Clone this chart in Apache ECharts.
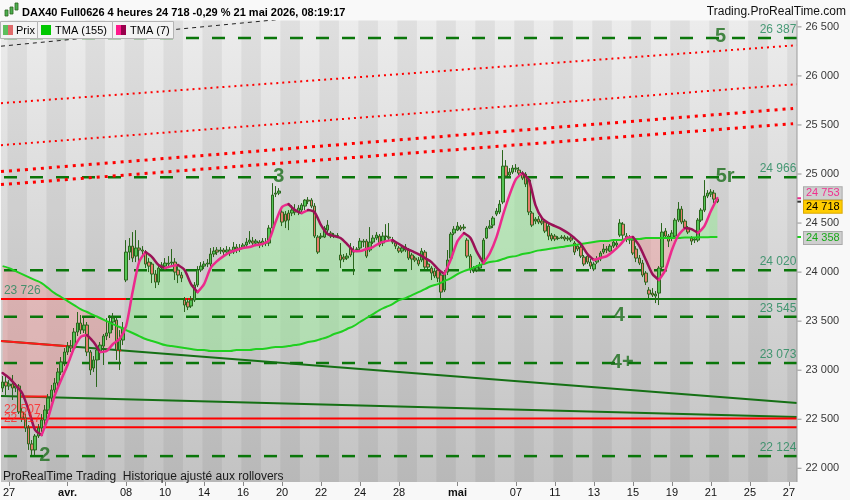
<!DOCTYPE html>
<html lang="fr">
<head>
<meta charset="UTF-8">
<title>DAX40 Full0626 4 heures</title>
<script src="https://cdn.jsdelivr.net/npm/echarts@6/dist/echarts.min.js"></script>
<style>
  html, body { margin: 0; padding: 0; background: #f8f8f8; }
  #chart { width: 850px; height: 500px; }
</style>
</head>
<body>
<div id="chart"></div>
<script>
// bar slots: 2 late bars of 26/03, then 6 four-hour bars per trading day up to 27/05
const BAR_COUNT = 245;
const Y_MIN = 21860, Y_MAX = 26565;

// x axis tick labels (bar index of first bar of the day)
const tickBars  = [2, 20, 38, 50, 62, 74, 86, 98, 110, 122, 140, 158, 170, 182, 194, 206, 218, 230, 242];
const tickTexts = ['27', 'avr.', '08', '10', '14', '16', '20', '22', '24', '28', 'mai', '07', '11', '13', '15', '19', '21', '25', '27'];
const monthTexts = ['avr.', 'mai'];
const yTicks = [22000, 22500, 23000, 23500, 24000, 24500, 25000, 25500, 26000, 26500];

// Prix: [open, close, low, high] per bar
const ohlc = [
  [22818,22879,22777,22941],[22879,22839,22747,22951],[22839,22859,22798,22900],[22859,22818,22696,22951],
  [22818,22839,22777,22869],[22839,22574,22553,22859],[22574,22513,22472,22614],[22513,22411,22370,22553],
  [22411,22248,22187,22441],[22248,22187,22136,22288],[22187,22329,22136,22349],[22329,22411,22309,22451],
  [22411,22492,22370,22553],[22492,22594,22441,22645],[22594,22716,22553,22757],[22716,22798,22676,22849],
  [22798,22869,22767,22920],[22869,22981,22839,23022],[22981,23084,22951,23134],[23084,23185,23042,23226],
  [23185,23246,23155,23287],[23246,23226,23185,23307],[23226,23389,23206,23430],[23389,23481,23348,23593],
  [23481,23409,23369,23562],[23409,23460,23379,23532],[23460,23185,23144,23491],[23185,23002,22951,23206],
  [23022,23104,22981,23144],[23104,23206,22829,23256],[23185,23256,23104,23287],[23246,23348,23053,23369],
  [23348,23379,23307,23532],[23379,23491,23328,23562],[23491,23532,23409,23583],[23511,23206,23104,23532],
  [23206,23307,23002,23409],[23307,23430,23256,23491],[23919,24204,23898,24326],[24204,24265,24123,24347],
  [24265,24143,24102,24408],[24163,24245,24102,24428],[24245,24225,24072,24326],[24225,24214,24163,24265],
  [24204,24082,24041,24225],[24102,24061,24000,24143],[24082,23980,23888,24102],[23980,23898,23837,24021],
  [23898,24041,23868,24072],[24041,24072,24021,24102],[24061,24092,24021,24143],[24082,24092,24041,24163],
  [24092,24102,24061,24235],[24102,24000,23919,24143],[24021,23970,23888,24061],[23970,23939,23898,24000],
  [23715,23664,23593,23746],[23695,23644,23613,23735],[23654,23715,23634,23756],[23715,23868,23695,23898],
  [23868,24021,23847,24061],[24021,24061,24000,24102],[24061,24082,24031,24112],[24082,24092,24051,24133],
  [24082,24184,24051,24245],[24184,24214,24153,24255],[24225,24204,24174,24255],[24214,24225,24184,24255],
  [24225,24204,24174,24245],[24204,24225,24184,24265],[24225,24194,24163,24255],[24204,24255,24184,24306],
  [24255,24235,24194,24286],[24235,24245,24204,24286],[24255,24276,24235,24296],[24276,24306,24255,24347],
  [24306,24326,24286,24418],[24316,24296,24265,24357],[24296,24316,24265,24337],[24306,24276,24245,24326],
  [24286,24316,24255,24347],[24306,24296,24265,24347],[24296,24449,24265,24479],[24449,24785,24408,24907],
  [24795,24805,24765,24877],[24805,24826,24785,24856],[24612,24510,24469,24632],[24591,24520,24449,24622],
  [24602,24530,24428,24632],[24602,24632,24571,24683],[24632,24612,24581,24693],[24612,24652,24581,24683],
  [24632,24683,24612,24703],[24673,24734,24632,24744],[24734,24724,24693,24765],[24734,24673,24652,24754],
  [24673,24367,24347,24703],[24357,24204,24184,24377],[24357,24367,24337,24398],[24357,24449,24347,24469],
  [24428,24479,24398,24530],[24398,24367,24347,24418],[24367,24377,24347,24398],[24367,24372,24347,24398],
  [24174,24123,24041,24296],[24153,24133,24102,24184],[24143,24163,24123,24194],[24245,24174,24153,24296],
  [24225,24204,23970,24265],[24235,24230,24204,24255],[24245,24316,24225,24347],[24306,24316,24255,24337],
  [24316,24163,24143,24337],[24225,24306,24204,24459],[24306,24347,24286,24377],[24347,24377,24326,24408],
  [24367,24276,24255,24388],[24296,24367,24265,24408],[24367,24362,24326,24489],[24357,24347,24316,24500],
  [24326,24306,24286,24357],[24296,24265,24235,24316],[24245,24214,24194,24265],[24214,24245,24194,24276],
  [24225,24255,24204,24286],[24225,24143,24123,24245],[24174,24133,24021,24194],[24143,24123,24102,24163],
  [24123,24082,24061,24153],[24123,24214,24102,24245],[24204,24051,24031,24225],[24082,24051,24031,24112],
  [24041,23990,23919,24061],[24010,23960,23939,24041],[24021,23939,23898,24051],[23970,23796,23735,24000],
  [23817,23990,23796,24021],[24000,24123,23970,24225],[24143,24388,24123,24408],[24398,24438,24377,24469],
  [24428,24469,24418,24510],[24459,24438,24418,24479],[24449,24459,24428,24489],[24326,24163,24143,24347],
  [24163,24021,23990,24184],[24021,24041,23990,24061],[24021,24051,24000,24072],[24041,24072,24031,24102],
  [24102,24326,24082,24347],[24347,24449,24337,24469],[24449,24469,24438,24530],[24479,24551,24449,24571],
  [24591,24622,24571,24652],[24612,24693,24591,24734],[24714,25080,24693,25244],[25080,24979,24958,25142],
  [24989,25019,24968,25060],[25019,25060,24999,25091],[25050,25060,25019,25101],[25040,25009,24979,25070],
  [25009,24958,24938,25030],[24999,24897,24867,25019],[24938,24612,24581,24958],[24602,24479,24459,24622],
  [24520,24540,24489,24561],[24540,24510,24489,24571],[24520,24500,24479,24551],[24510,24418,24398,24530],
  [24469,24367,24326,24500],[24377,24337,24316,24398],[24367,24337,24316,24388],[24347,24342,24326,24367],
  [24347,24357,24337,24377],[24357,24337,24316,24377],[24337,24347,24316,24367],[24347,24326,24306,24367],
  [24296,24204,24174,24316],[24265,24235,24214,24286],[24255,24163,24143,24276],[24153,24082,24061,24174],
  [24163,24102,24082,24194],[24102,24061,24031,24133],[24031,24082,24010,24102],[24102,24133,24082,24163],
  [24133,24194,24112,24214],[24204,24235,24184,24286],[24235,24225,24194,24265],[24214,24265,24204,24286],
  [24265,24306,24245,24326],[24276,24296,24255,24326],[24377,24500,24357,24540],[24489,24377,24326,24510],
  [24367,24347,24306,24398],[24347,24326,24286,24377],[24326,24194,24174,24347],[24235,24143,24102,24265],
  [24143,24092,24072,24174],[24092,23970,23949,24123],[23990,23898,23868,24010],[23817,23776,23735,23847],
  [23786,23766,23746,23837],[23756,23776,23684,23807],[23786,24041,23664,24061],[24051,24408,24031,24500],
  [24418,24367,24347,24449],[24367,24316,24255,24388],[24347,24398,24316,24428],[24367,24530,24347,24551],
  [24530,24642,24510,24714],[24642,24510,24489,24673],[24520,24449,24428,24540],[24449,24408,24388,24469],
  [24347,24316,24276,24367],[24326,24337,24296,24357],[24326,24530,24306,24551],[24530,24632,24510,24652],
  [24632,24775,24612,24938],[24775,24805,24754,24836],[24795,24816,24765,24846],[24805,24744,24703,24836],
  [24744,24718,24703,24765]
];

// moving averages, one reading every TMA_STEP bars
const TMA_STEP = 2;
const tmaFast = [
  22971,22920,22849,22767,22594,22390,22339,22513,22737,22900,
  23053,23226,23338,23358,23287,23185,23195,23267,23318,23450,
  23796,24102,24204,24153,24072,24041,24061,24072,24021,23878,
  23796,23878,24041,24112,24163,24204,24225,24245,24255,24276,
  24286,24326,24510,24663,24693,24632,24602,24632,24612,24479,
  24388,24367,24347,24286,24214,24214,24235,24255,24296,24316,
  24326,24286,24245,24214,24184,24143,24102,24031,23980,24133,
  24316,24398,24347,24204,24092,24194,24357,24581,24785,24948,
  25009,24938,24683,24551,24500,24469,24438,24398,24347,24286,
  24184,24123,24143,24163,24214,24276,24347,24357,24265,24123,
  23980,23919,24021,24225,24377,24449,24438,24398,24469,24622,
  24754
];
const tmaSlow = [
  24061,24041,24010,23980,23949,23919,23888,23837,23786,23746,
  23705,23664,23623,23593,23562,23532,23501,23470,23440,23409,
  23379,23348,23318,23297,23277,23256,23246,23236,23226,23216,
  23206,23206,23195,23195,23195,23195,23206,23206,23206,23216,
  23216,23226,23236,23236,23246,23256,23267,23287,23297,23318,
  23338,23369,23389,23420,23450,23491,23532,23572,23613,23644,
  23674,23715,23735,23766,23796,23827,23858,23878,23909,23939,
  23980,24010,24031,24061,24082,24102,24112,24133,24153,24163,
  24184,24194,24214,24225,24235,24245,24255,24265,24276,24286,
  24296,24306,24316,24316,24326,24326,24337,24337,24337,24347,
  24347,24347,24347,24347,24347,24352,24352,24355,24355,24357,
  24358
];

// horizontal levels and wave counts
const levelValues = [26387, 24966, 24020, 23545, 23073, 22124];
const waveTexts  = ['5', '5r', '3', '4', '4+', '2'];
const waveBars   = [221, 222.4, 85, 189.8, 190.7, 13];
const waveLevels = [26387, 24966, 24966, 23545, 23073, 22124];
const supportLevel = 23726;
const redLevels = [22507, 22417];
const lastFast = 24753, lastPrice = 24718, lastSlow = 24358;

// trend lines as [bar, price] end points
const dotsA = [[-0.5, 25722], [244.5, 26313]];
const dotsB = [[-0.5, 25294], [244.5, 25916]];
const dotsC = [[-0.5, 25025], [243.3, 25668]];
const dotsD = [[-0.5, 24892], [243.3, 25513]];
const blackDash = [[-0.5, 26303], [100, 26623]];
const downLine = [[-0.5, 23297], [244.5, 22665]];
const downLineRed = [[-0.5, 23297], [21, 23242]];
const downLineRed2 = [[35, 23210], [36.5, 23200]];
const lowLine = [[-0.5, 22737], [244.5, 22523]];
const lowLineRed = [[4.7, 22731], [14, 22731]];
const supportRed = [[-0.5, supportLevel], [38, supportLevel]];
const supportRed2 = [[55.8, supportLevel], [58.2, supportLevel]];

const fmt = v => String(Math.round(v)).replace(/\B(?=(\d{3})+(?!\d))/g, ' ');
const slots = [];
for (let i = 0; i < BAR_COUNT; i++) slots.push('b' + i);
const stripeStarts = [];
for (let d = 0; d <= 40; d += 2) stripeStarts.push([2 + 6 * d, Y_MIN]);

const UP_FILL = 'rgba(150,236,150,0.5)', DN_FILL = 'rgba(245,140,140,0.38)';
const PINK = '#ec2a8c', MAROON = '#9a1257';
const FONT = '"Liberation Sans", Arial, sans-serif';

function fillArea(params, api) {
  if (params.dataIndex > 0) return;
  const children = [];
  let fast = [], slow = [], sign = null;
  const flush = () => {
    if (fast.length > 1) {
      children.push({ type: 'polygon', shape: { points: fast.concat(slow.slice().reverse()) },
        style: { fill: sign > 0 ? UP_FILL : DN_FILL } });
    }
  };
  for (let k = 0; k < tmaFast.length; k++) {
    const d = tmaFast[k] - tmaSlow[k];
    const s = d >= 0 ? 1 : -1;
    if (sign !== null && s !== sign) {
      const dp = tmaFast[k - 1] - tmaSlow[k - 1];
      const t = dp / (dp - d);
      const pc = api.coord([(k - 1 + t) * TMA_STEP, tmaSlow[k - 1] + t * (tmaSlow[k] - tmaSlow[k - 1])]);
      fast.push(pc); slow.push(pc);
      flush();
      fast = [pc]; slow = [pc];
    }
    sign = s;
    fast.push(api.coord([k * TMA_STEP, tmaFast[k]]));
    slow.push(api.coord([k * TMA_STEP, tmaSlow[k]]));
  }
  flush();
  return { type: 'group', children: children };
}

// TMA (7): pink while rising, dark magenta while falling
function fastLine(params, api) {
  if (params.dataIndex > 0) return;
  const children = [];
  const poly = (pts, dir) => ({ type: 'polyline', shape: { points: pts, smooth: 0.25 },
    style: { stroke: dir > 0 ? PINK : MAROON, lineWidth: 2.5, fill: 'none', lineJoin: 'round', lineCap: 'round' } });
  let pts = [api.coord([0, tmaFast[0]])], dir = null;
  for (let k = 1; k < tmaFast.length; k++) {
    const d = tmaFast[k] >= tmaFast[k - 1] ? 1 : -1;
    if (dir !== null && d !== dir) {
      children.push(poly(pts, dir));
      pts = [pts[pts.length - 1]];
    }
    dir = d;
    pts.push(api.coord([k * TMA_STEP, tmaFast[k]]));
  }
  children.push(poly(pts, dir));
  return { type: 'group', children: children };
}

function seg(pts, color, width, dash, z) {
  return {
    type: 'line', xAxisIndex: 1, data: pts, symbol: 'none', silent: true,
    lineStyle: { color: color, width: width, type: dash || 'solid' }, z: z || 3
  };
}

const levelSeries = levelValues.map(v => ({
  type: 'line', xAxisIndex: 1, data: [[-0.5, v], [244.5, v]], symbol: 'none', silent: true,
  lineStyle: { color: '#0a760a', width: 2.5, type: [13, 13], dashOffset: -3 }, z: 3
}));

const chart = echarts.init(document.getElementById('chart'));
chart.setOption({
  animation: false,
  backgroundColor: '#f8f8f8',
  textStyle: { fontFamily: FONT },
  grid: {
    left: 0, right: 53, top: 20.5, bottom: 18, show: true, borderWidth: 0,
    backgroundColor: { type: 'linear', x: 0, y: 0, x2: 0, y2: 1,
      colorStops: [{ offset: 0, color: '#ececec' }, { offset: 1, color: '#c3c3c3' }] }
  },
  xAxis: [{
    type: 'category', data: slots, boundaryGap: true,
    axisLine: { show: false },
    axisTick: { show: true, alignWithLabel: true, length: 4, lineStyle: { color: '#888' },
      interval: (i) => tickBars.indexOf(i) >= 0 },
    axisLabel: {
      interval: (i) => tickBars.indexOf(i) >= 0, margin: 5, color: '#111', fontSize: 11,
      formatter: (v, i) => {
        const t = tickTexts[tickBars.indexOf(i)];
        return monthTexts.indexOf(t) >= 0 ? '{b|' + t + '}' : t;
      },
      rich: { b: { fontWeight: 'bold', fontSize: 11, color: '#111' } }
    },
    splitLine: { show: false }
  }, {
    type: 'value', min: -0.5, max: 244.5, show: false
  }],
  // the price scale itself is drawn by the series below, just outside the plot
  yAxis: {
    type: 'value', min: Y_MIN, max: Y_MAX, show: false,
    axisTick: { show: false }, axisLabel: { show: false }, splitLine: { show: false }, axisLine: { show: false }
  },
  series: [
    {
      type: 'custom', xAxisIndex: 1, silent: true, z: 1, data: stripeStarts,
      renderItem: (params, api) => {
        const s = api.value(0);
        const a = api.coord([Math.max(s - 0.5, -0.5), Y_MAX]);
        const b = api.coord([Math.min(s + 5.5, 244.5), Y_MIN]);
        return { type: 'rect', shape: { x: a[0], y: a[1], width: b[0] - a[0], height: b[1] - a[1] },
          style: { fill: 'rgba(0,0,0,0.055)' } };
      }
    },
    { type: 'custom', xAxisIndex: 1, silent: true, z: 2, data: [[0, tmaSlow[0]]], renderItem: fillArea },
    ...levelSeries,
    seg([[-0.5, supportLevel], [244.5, supportLevel]], '#0c780c', 2),
    seg(supportRed, '#ff0000', 2),
    seg(supportRed2, '#ff0000', 2),
    seg(downLine, '#157015', 2),
    seg(downLineRed, '#ff1a1a', 2),
    seg(downLineRed2, '#ff1a1a', 2),
    seg(lowLine, '#157015', 2),
    seg(lowLineRed, '#ff1a1a', 2),
    seg([[-0.5, redLevels[0]], [244.5, redLevels[0]]], '#ff0000', 2),
    seg([[-0.5, redLevels[1]], [244.5, redLevels[1]]], '#ff0000', 2),
    seg(dotsA, '#ff0000', 2, [2, 4]),
    seg(dotsB, '#ff0000', 2, [2, 4]),
    seg(dotsC, '#ff0000', 3, [3, 5]),
    seg(dotsD, '#ff0000', 3, [3, 5]),
    seg(blackDash, '#222', 1, [4, 4]),
    {
      name: 'Prix', type: 'candlestick', xAxisIndex: 0, data: ohlc, barWidth: 3, z: 4, silent: true,
      itemStyle: { color: '#55c455', color0: '#e47c6c', borderColor: '#2b661d', borderColor0: '#2b661d', borderWidth: 1 }
    },
    {
      name: 'TMA (155)', type: 'line', xAxisIndex: 1, z: 5, symbol: 'none', smooth: true, silent: true,
      data: tmaSlow.map((v, k) => [k * TMA_STEP, v]),
      lineStyle: { color: '#1fd01f', width: 2 },
      markPoint: {
        symbol: 'rect', symbolSize: [4, 2], symbolOffset: [2, 0], silent: true,
        label: { show: true, position: 'right', distance: 3, fontSize: 11, padding: [1, 2, 0, 2] },
        data: [
          { coord: [244.5, lastFast], itemStyle: { color: PINK },
            label: { formatter: fmt(lastFast), color: '#f0308f', backgroundColor: '#cfcfcf', borderColor: '#a9a9a9', borderWidth: 1, offset: [0, -5] } },
          { coord: [244.5, lastPrice], itemStyle: { color: '#333' },
            label: { formatter: fmt(lastPrice), color: '#000', backgroundColor: '#ffcc00', borderColor: '#d9a800', borderWidth: 1, offset: [0, 5] } },
          { coord: [244.5, lastSlow], itemStyle: { color: '#1fd01f' },
            label: { formatter: fmt(lastSlow), color: '#1aa81a', backgroundColor: '#cfcfcf', borderColor: '#a9a9a9', borderWidth: 1, offset: [0, 1] } }
        ]
      }
    },
    { type: 'custom', xAxisIndex: 1, silent: true, z: 6, data: [[0, tmaFast[0]]], renderItem: fastLine },
    {
      // price scale line on the right edge of the plot
      type: 'line', xAxisIndex: 1, z: 7, silent: true, clip: false, symbol: 'none',
      data: [[244.5, Y_MIN], [244.5, Y_MAX]],
      lineStyle: { color: '#9a9a9a', width: 1 }
    },
    {
      // price scale ticks and labels, tick drawn as part of the label
      type: 'scatter', xAxisIndex: 1, z: 7, silent: true, clip: false, symbolSize: 1,
      itemStyle: { color: 'transparent' },
      data: yTicks.map(v => [244.5, v]),
      label: { show: true, position: 'right', distance: 0, fontSize: 11, color: '#000',
        formatter: p => '{t|}{v|' + fmt(p.value[1]) + '}',
        rich: {
          t: { width: 4, height: 1, backgroundColor: '#777' },
          v: { fontSize: 11, color: '#000', padding: [0, 0, 0, 4] }
        } }
    },
    {
      type: 'scatter', xAxisIndex: 1, z: 7, silent: true, clip: false, symbolSize: 1,
      itemStyle: { color: 'transparent' },
      data: levelValues.map(v => [244.3, v]),
      label: { show: true, position: 'top', align: 'right', distance: 2, fontSize: 12, color: '#21875a',
        formatter: p => fmt(p.value[1]) }
    },
    {
      type: 'scatter', xAxisIndex: 1, z: 7, silent: true, clip: false, symbolSize: 1,
      itemStyle: { color: 'transparent' },
      data: [
        { value: [0.4, supportLevel], label: { color: '#21875a' } },
        { value: [0.4, redLevels[0]], label: { color: '#ff2020' } },
        { value: [0.4, redLevels[1]], label: { color: '#ff2020' } }
      ],
      label: { show: true, position: 'top', align: 'left', distance: 2, fontSize: 12,
        formatter: p => fmt(p.value[1]) }
    },
    {
      type: 'scatter', xAxisIndex: 1, z: 8, silent: true, clip: false, symbolSize: 1,
      itemStyle: { color: 'transparent' },
      data: waveTexts.map((t, k) => ({ value: [waveBars[k], waveLevels[k]], name: t })),
      label: { show: true, position: 'inside', offset: [0, -1], fontSize: 20, fontWeight: 'bold', color: '#1c6e1c',
        textShadowColor: 'rgba(205,205,20,0.9)', textShadowOffsetX: -1, textShadowBlur: 0,
        formatter: p => p.name }
    }
  ],
  graphic: [
    { type: 'rect', z: 100, shape: { x: 0, y: 0, width: 850, height: 20 }, style: { fill: '#f9f9f9' } },
    { type: 'rect', z: 101, shape: { x: 5, y: 10, width: 3, height: 6 }, style: { fill: '#4caf50', stroke: '#2b661d', lineWidth: 0.8 } },
    { type: 'rect', z: 101, shape: { x: 10, y: 7, width: 3, height: 7 }, style: { fill: '#4caf50', stroke: '#2b661d', lineWidth: 0.8 } },
    { type: 'rect', z: 101, shape: { x: 15, y: 3, width: 3, height: 7 }, style: { fill: '#4caf50', stroke: '#2b661d', lineWidth: 0.8 } },
    { type: 'text', z: 101, x: 22, y: 13, style: { text: 'DAX40 Full0626 4 heures 24 718 -0,29 % 21 mai 2026, 08:19:17',
      font: 'bold 11px ' + FONT, fill: '#000', verticalAlign: 'middle' } },
    { type: 'text', z: 101, x: 846, y: 12, style: { text: 'Trading.ProRealTime.com',
      font: '12px ' + FONT, fill: '#111', align: 'right', verticalAlign: 'middle' } },

    { type: 'rect', z: 100, shape: { x: 0.5, y: 21.5, width: 37, height: 17 }, style: { fill: '#f3f3f3', stroke: '#b4b4b4', lineWidth: 1 } },
    { type: 'rect', z: 101, shape: { x: 3, y: 25, width: 5, height: 10 }, style: { fill: '#5cbf5c' } },
    { type: 'rect', z: 101, shape: { x: 8, y: 25, width: 5, height: 10 }, style: { fill: '#e06a6a' } },
    { type: 'text', z: 101, x: 16, y: 30.5, style: { text: 'Prix', font: '11px ' + FONT, fill: '#000', verticalAlign: 'middle' } },
    { type: 'rect', z: 100, shape: { x: 37.5, y: 21.5, width: 75, height: 17 }, style: { fill: '#f3f3f3', stroke: '#b4b4b4', lineWidth: 1 } },
    { type: 'rect', z: 101, shape: { x: 41, y: 25, width: 10, height: 10 }, style: { fill: '#00c800' } },
    { type: 'text', z: 101, x: 55, y: 30.5, style: { text: 'TMA (155)', font: '11px ' + FONT, fill: '#000', verticalAlign: 'middle' } },
    { type: 'rect', z: 100, shape: { x: 112.5, y: 21.5, width: 61, height: 17 }, style: { fill: '#f3f3f3', stroke: '#b4b4b4', lineWidth: 1 } },
    { type: 'rect', z: 101, shape: { x: 116, y: 25, width: 5, height: 10 }, style: { fill: '#ff1a8c' } },
    { type: 'rect', z: 101, shape: { x: 121, y: 25, width: 5, height: 10 }, style: { fill: '#99004d' } },
    { type: 'text', z: 101, x: 130, y: 30.5, style: { text: 'TMA (7)', font: '11px ' + FONT, fill: '#000', verticalAlign: 'middle' } },

    { type: 'text', z: 101, x: 3, y: 476.5, style: { text: 'ProRealTime Trading  Historique ajusté aux rollovers',
      font: '12px ' + FONT, fill: '#1a1a1a', verticalAlign: 'middle' } }
  ]
});
</script>
</body>
</html>
